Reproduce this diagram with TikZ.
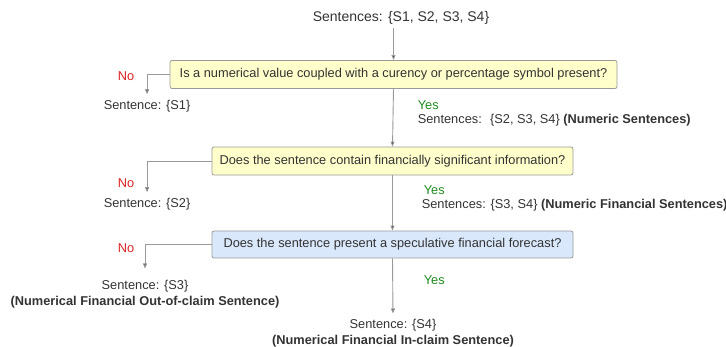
\documentclass[tikz,border=0pt]{standalone}
\usepackage{fontspec}
\setmainfont{Liberation Sans}
\usetikzlibrary{arrows.meta}
\definecolor{txtgray}{HTML}{333333}
\definecolor{linegray}{HTML}{9A9A9A}
\definecolor{boxyellow}{HTML}{FFFFCC}
\definecolor{boxblue}{HTML}{DAE8FC}
\definecolor{nored}{HTML}{DD2222}
\definecolor{yesgreen}{HTML}{1E8C1E}
\begin{document}
\begin{tikzpicture}[x=1pt, y=-1pt, line width=0.9pt,
  every node/.style={font=\fontsize{12.8}{15.5}\selectfont, text=txtgray},
  question/.style={rectangle, rounded corners=2pt, draw=linegray, line width=0.8pt, minimum height=28pt, inner sep=0pt},
  flow/.style={draw=linegray, -{Triangle[length=5pt, width=4pt, fill=txtgray]}},
  nolabel/.style={text=nored},
  yeslabel/.style={text=yesgreen, anchor=west}]
\useasboundingbox (0,0) rectangle (726,347);
\begin{scope}
\node[font=\fontsize{14}{16}\selectfont] (all) at (401,18) {Sentences: \{S1, S2, S3, S4\}};
\node[question, fill=boxyellow, minimum width=447pt] (q1) at (393.5,74.5) {Is a numerical value coupled with a curency or percentage symbol present?};
\node[question, fill=boxyellow, minimum width=361pt] (q2) at (392.5,161) {Does the sentence contain financially significant information?};
\node[question, fill=boxblue, minimum width=361pt, minimum height=27pt] (q3) at (392.5,244.5) {Does the sentence present a speculative financial forecast?};
%results
\node[anchor=west] (s1) at (100,106) {Sentence: \{S1\}};
\node[anchor=west] (s2) at (100,204) {Sentence: \{S2\}};
\node[align=center] (s3) at (145,294) {Sentence: \{S3\}\\\textbf{(Numerical Financial Out-of-claim Sentence)}};
\node[align=center] (s4) at (393,333) {Sentence: \{S4\}\\\textbf{(Numerical Financial In-claim Sentence)}};
\node[anchor=west] (n1) at (414,120) {Sentences: \ \{S2, S3, S4\} \textbf{(Numeric Sentences)}};
\node[anchor=west] (n2) at (418,205) {Sentences: \{S3, S4\} \textbf{(Numeric Financial Sentences)}};
%labels
\node[nolabel] (no1) at (126,76) {No};
\node[nolabel] (no2) at (126,183) {No};
\node[nolabel] (no3) at (126,248) {No};
\node[yeslabel] (yes1) at (414,105) {Yes};
\node[yeslabel] (yes2) at (420,190) {Yes};
\node[yeslabel] (yes3) at (420,280) {Yes};
\end{scope}
\begin{scope}
\draw[flow] (all.south -| q1.north) -- (q1.north);
\draw[flow] (q1.south) -- (q2.north);
\draw[flow] (q2.south) -- (q3.north);
\draw[flow, shorten >=2pt] (q3.south) -- (s4.north);
\draw[flow, shorten >=2pt] (q1.west) -| (s1.north);
\draw[flow, shorten >=2pt] (q2.west) -| (s2.north);
\draw[flow, shorten >=8pt] (q3.west) -| (s3.north);
\end{scope}
\end{tikzpicture}
\end{document}
